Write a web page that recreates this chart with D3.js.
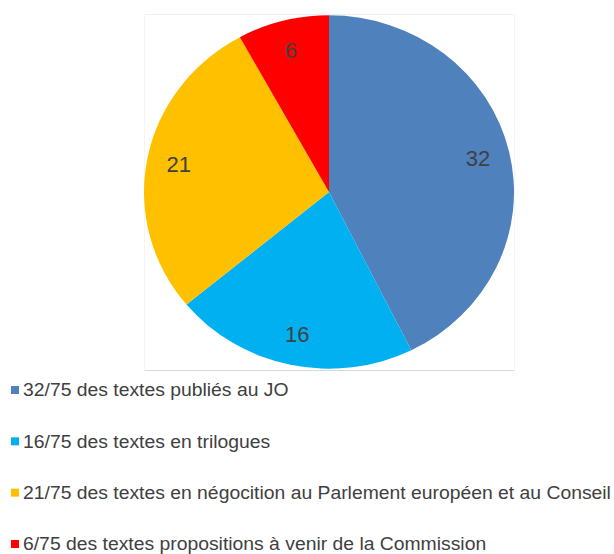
<!DOCTYPE html>
<html>
<head>
<meta charset="utf-8">
<script src="https://cdn.jsdelivr.net/npm/d3@7/dist/d3.min.js"></script>
<style>
  html, body { margin: 0; padding: 0; background: #ffffff; }
  svg { display: block; }
</style>
</head>
<body>
<svg id="chart" width="614" height="554"></svg>
<script>
const categories = [
  "32/75 des textes publiés au JO",
  "16/75 des textes en trilogues",
  "21/75 des textes en négocition au Parlement européen et au Conseil",
  "6/75 des textes propositions à venir de la Commission"
];
const values = [32, 16, 21, 6];
const colors = ["#4F81BD", "#00B0F0", "#FFC000", "#FF0000"];

const svg = d3.select("#chart");

// plot area frame
const frame = {x0: 144.5, y0: 14.5, x1: 514.5, y1: 370.5};
svg.append("line").attr("x1", frame.x0).attr("x2", frame.x1).attr("y1", frame.y0).attr("y2", frame.y0).attr("stroke", "#f0f0f0");
svg.append("line").attr("x1", frame.x0).attr("x2", frame.x0).attr("y1", frame.y0).attr("y2", frame.y1).attr("stroke", "#f4f4f4");
svg.append("line").attr("x1", frame.x1).attr("x2", frame.x1).attr("y1", frame.y0).attr("y2", frame.y1).attr("stroke", "#f4f4f4");
svg.append("line").attr("x1", frame.x0).attr("x2", frame.x1).attr("y1", frame.y1).attr("y2", frame.y1).attr("stroke", "#d9d9d9");

const cx = 329, cy = 192, R = 185, sy = 0.955;
const pie = d3.pie().sort(null).value(d => d)(values);
const arc = d3.arc().innerRadius(0).outerRadius(R);
const labelArc = d3.arc().innerRadius(153).outerRadius(153);

const g = svg.append("g").attr("transform", `translate(${cx},${cy}) scale(1,${sy})`);
g.selectAll("path").data(pie).enter().append("path")
  .attr("d", arc)
  .attr("fill", (d, i) => colors[i]);

svg.append("g").selectAll("text").data(pie).enter().append("text")
  .attr("x", d => cx + labelArc.centroid(d)[0])
  .attr("y", d => cy + labelArc.centroid(d)[1] * sy)
  .attr("text-anchor", "middle")
  .attr("dominant-baseline", "central")
  .attr("font-family", "Liberation Sans, Arial, sans-serif")
  .attr("font-size", 22)
  .attr("fill", "#404040")
  .text(d => d.data);

// legend
const ly = d3.scalePoint().domain(categories).range([390, 544]);
const leg = svg.append("g").selectAll("g").data(categories).enter().append("g")
  .attr("transform", d => `translate(0,${ly(d)})`);
leg.append("rect").attr("x", 11).attr("y", -4).attr("width", 8).attr("height", 8)
  .attr("fill", (d, i) => colors[i]);
leg.append("text")
  .attr("transform", "translate(23,0) scale(1.105,1)")
  .attr("dominant-baseline", "central")
  .attr("font-family", "Liberation Sans, Arial, sans-serif")
  .attr("font-size", 17.5)
  .attr("fill", "#404040")
  .text(d => d);
</script>
</body>
</html>
